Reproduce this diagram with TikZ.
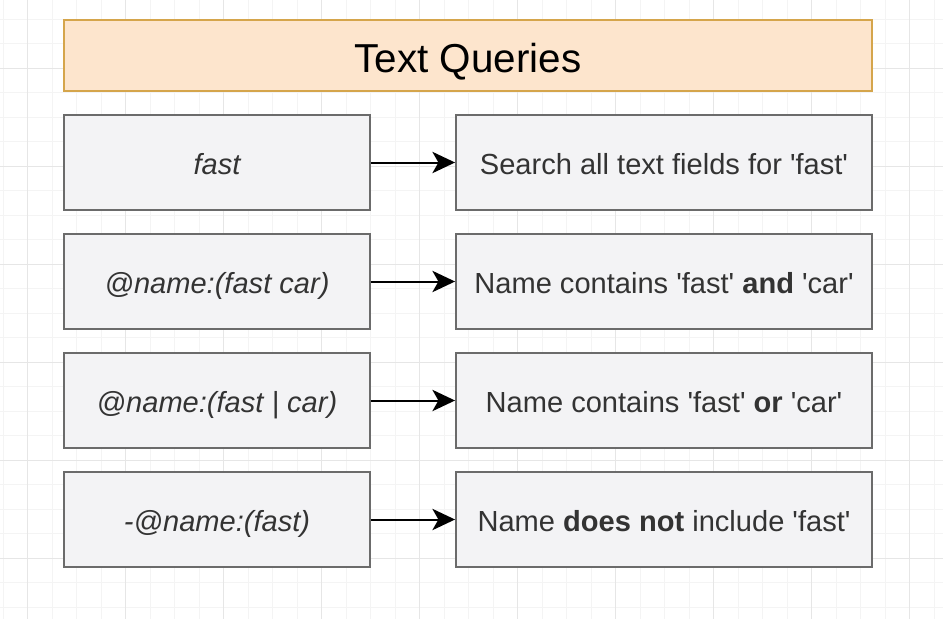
\documentclass[tikz,border=0pt]{standalone}
\usepackage{fontspec}
\setmainfont{Liberation Sans}
\usetikzlibrary{arrows.meta}
\definecolor{gridminor}{HTML}{F4F4F4}
\definecolor{gridmajor}{HTML}{E6E6E6}
\definecolor{boxfill}{HTML}{F3F3F5}
\definecolor{boxline}{HTML}{6B6B6B}
\definecolor{titlefill}{HTML}{FDE5CD}
\definecolor{titleline}{HTML}{D5A54B}
\definecolor{txt}{HTML}{333333}
\newcommand{\sq}{\textquotesingle}
\begin{document}
\begin{tikzpicture}[x=0.75pt,y=-0.75pt,
        query/.style={draw=boxline, line width=1.4pt, fill=boxfill, minimum width=306*0.75pt, minimum height=95*0.75pt, text height=18.3pt, text depth=0pt, text=txt, font=\fontsize{21.8}{26}\selectfont\itshape},
        desc/.style={draw=boxline, line width=1.4pt, fill=boxfill, minimum width=416*0.75pt, minimum height=95*0.75pt, text height=18.3pt, text depth=0pt, text=txt, font=\fontsize{21.8}{26}\selectfont},
        link/.style={line width=1.5pt, -{Stealth[length=17pt, width=16pt, inset=4.5pt]}}]
        \useasboundingbox (0,0) rectangle (943,619);
        \fill[white] (0,0) rectangle (943,619);
        \foreach \i in {0,...,38} {
            \draw[gridminor, line width=0.6pt] (3.2+24.5*\i,0) -- (3.2+24.5*\i,619);
            \draw[gridminor, line width=0.6pt] (0,-5.5+24.5*\i) -- (943,-5.5+24.5*\i);
        }
        \foreach \i in {0,...,9} {
            \draw[gridmajor, line width=0.6pt] (27.7+98*\i,0) -- (27.7+98*\i,619);
            \draw[gridmajor, line width=0.6pt] (0,-30+98*\i) -- (943,-30+98*\i);
        }
        \node[draw=titleline, line width=1.4pt, fill=titlefill, minimum width=808*0.75pt, minimum height=71*0.75pt, text height=25.8pt, text depth=0pt, font=\fontsize{30.3}{36}\selectfont] (title) at (468,55.5) {Text Queries};
        \node[query] (q1) at (217,162.5) {fast};
        \node[query] (q2) at (217,281.5) {@name:(fast car)};
        \node[query] (q3) at (217,400.5) {@name:(fast | car)};
        \node[query] (q4) at (217,519.5) {-@name:(fast)};
        \node[desc] (d1) at (664,162.5) {Search all text fields for \sq fast\sq};
        \node[desc] (d2) at (664,281.5) {Name contains \sq fast\sq{} \textbf{and} \sq car\sq};
        \node[desc] (d3) at (664,400.5) {Name contains \sq fast\sq{} \textbf{or} \sq car\sq};
        \node[desc] (d4) at (664,519.5) {Name \textbf{does not} include \sq fast\sq};
        \draw[link] (q1) -- (d1);
        \draw[link] (q2) -- (d2);
        \draw[link] (q3) -- (d3);
        \draw[link] (q4) -- (d4);
    \end{tikzpicture}
\end{document}
